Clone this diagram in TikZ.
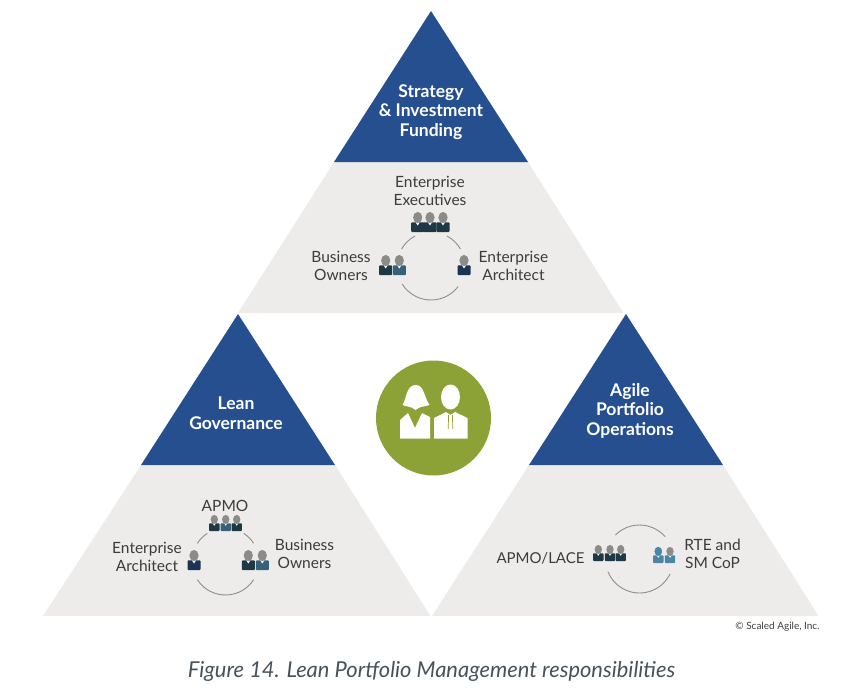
\documentclass[tikz,border=0pt]{standalone}
\usepackage{fontspec}
\setmainfont{Lato}
\usepackage{tikz}

\definecolor{pyramidblue}{HTML}{264F90}
\definecolor{pyramidgrey}{HTML}{EDECEA}
\definecolor{leafgreen}{HTML}{8CA236}
\definecolor{labelgrey}{HTML}{3C3C3C}
\definecolor{captiongrey}{HTML}{46525C}
\definecolor{headgrey}{HTML}{8B8B87}
\definecolor{ringgrey}{HTML}{8E8E8A}
\definecolor{bodydark}{HTML}{1F3845}
\definecolor{bodyteal}{HTML}{35617A}
\definecolor{bodynavy}{HTML}{1B3355}
\definecolor{bodylight}{HTML}{4B86A8}

\tikzset{
  label/.style={text=labelgrey, font=\fontsize{15.5}{18}\selectfont, align=center, inner sep=0pt},
  title/.style={text=white, font=\fontsize{17.5}{19.5}\selectfont\bfseries, align=center, inner sep=0pt},
  ring/.style={draw=ringgrey, line width=0.9pt},
  pics/person/.style={code={
    \fill[#1, rounded corners=0.8pt] (-6.5,-10) -- (-6.5,-0.4) -- (6.5,-0.4) -- (6.5,-10) -- cycle;
    \fill[white] (-2,-0.4) -- (0,-3.5) -- (2,-0.4) -- cycle;
    \fill[headgrey] (0,4.5) ellipse (4.6 and 5.6);
  }}
}

\begin{document}
\begin{tikzpicture}[x=1pt, y=1pt]
  \useasboundingbox (0,0) rectangle (847,-699);

  % the three pyramids
  \foreach \ax/\ay/\reach in {431/-11/193, 238/-314/195, 626/-314/194} {
    \fill[pyramidgrey] (\ax-97,\ay-151) -- (\ax+97,\ay-151) -- (\ax+192.5,\ay-302) -- (\ax-\reach,\ay-302) -- cycle;
    \fill[pyramidblue] (\ax,\ay) -- (\ax+97,\ay-151) -- (\ax-97,\ay-151) -- cycle;
  }

  \node[title] (strategy) at (431,-112) {Strategy\\\& Investment\\Funding};
  \node[title] (governance) at (236,-413) {Lean\\Governance};
  \node[title] (operations) at (630,-410.5) {Agile\\Portfolio\\Operations};

  % top group
  \node[label] (executives) at (430,-191) {Enterprise\\Executives};
  \node[label] (ownersA) at (341,-266) {Business\\Owners};
  \node[label] (architectA) at (513.5,-266) {Enterprise\\Architect};
  \pic at (417.7,-222) {person=bodydark};
  \pic at (430,-222) {person=bodydark};
  \pic at (443,-222) {person=bodydark};
  \pic at (385.7,-265) {person=bodydark};
  \pic at (399.3,-265) {person=bodyteal};
  \pic at (464,-265) {person=bodynavy};
  \draw[ring] (431,-266) ++(118:34) arc[start angle=118, end angle=150, radius=34];
  \draw[ring] (431,-266) ++(62:34) arc[start angle=62, end angle=30, radius=34];
  \draw[ring] (431,-266) ++(212:34) arc[start angle=212, end angle=323, radius=34];

  % left group
  \node[label] (apmo) at (225,-506) {APMO};
  \node[label] (architectB) at (147,-557) {Enterprise\\Architect};
  \node[label] (ownersB) at (304.5,-554) {Business\\Owners};
  \pic[scale=0.8] at (214.3,-523) {person=bodydark};
  \pic[scale=0.8] at (225.7,-523) {person=bodyteal};
  \pic[scale=0.8] at (236.7,-523) {person=bodydark};
  \pic at (194,-560) {person=bodynavy};
  \pic at (248.3,-560) {person=bodydark};
  \pic at (262.3,-560) {person=bodyteal};
  \draw[ring] (225.5,-561.5) ++(123:33.5) arc[start angle=123, end angle=147, radius=33.5];
  \draw[ring] (225.5,-561.5) ++(57:33.5) arc[start angle=57, end angle=33, radius=33.5];
  \draw[ring] (225.5,-561.5) ++(213:33.5) arc[start angle=213, end angle=327, radius=33.5];

  % right group
  \node[label, font=\fontsize{15}{18}\selectfont] (lace) at (540.5,-558.5) {APMO/LACE};
  \node[label] (rte) at (712.5,-554) {RTE and\\SM CoP};
  \pic[scale=0.8] at (598.3,-553) {person=bodydark};
  \pic[scale=0.8] at (610,-553) {person=bodydark};
  \pic[scale=0.8] at (620.7,-553) {person=bodydark};
  \pic[scale=0.8] at (670,-555) {person=bodylight};
  \pic[scale=0.8] at (658.3,-555) {person=bodylight};
  \fill[bodylight] (658.3,-551.4) ellipse (3.7 and 4.5);
  \draw[ring] (639.5,-559) ++(135:34) arc[start angle=135, end angle=41, radius=34];
  \draw[ring] (639.5,-559) ++(202:34) arc[start angle=202, end angle=334, radius=34];

  % centre badge
  \fill[leafgreen] (433.5,-418) circle (57.5);
  \fill[white] (400,-438.5) -- (400,-420) -- (408,-413) -- (415,-428) -- (422,-413) -- (430,-417) -- (430,-438.5) -- cycle;
  \fill[white] (402.5,-405) .. controls (407,-398) and (406,-385) .. (416,-385)
    .. controls (424,-385) and (424,-397) .. (429.5,-405)
    .. controls (424,-407) and (420,-406) .. (415.5,-410)
    .. controls (411,-406) and (407,-407) .. (402.5,-405) -- cycle;
  \fill[white] (450.5,-397) ellipse (9.5 and 12.5);
  \fill[white] (434,-438.5) -- (434,-418) -- (446,-412) -- (450.5,-415) -- (455,-412) -- (467.5,-418) -- (467.5,-438.5) -- cycle;
  \draw[leafgreen, line width=0.7pt] (448.6,-415) -- (448.2,-429) (452.4,-415) -- (452.8,-429);

  \node[text=labelgrey, font=\fontsize{10}{12}\selectfont, inner sep=0pt] (copyright) at (777.5,-627) {© Scaled Agile, Inc.};
  \node[text=captiongrey, font=\fontsize{21.9}{26}\selectfont\itshape, inner sep=0pt] (caption) at (431.5,-671) {Figure 14. Lean Portfolio Management responsibilities};
\end{tikzpicture}
\end{document}
